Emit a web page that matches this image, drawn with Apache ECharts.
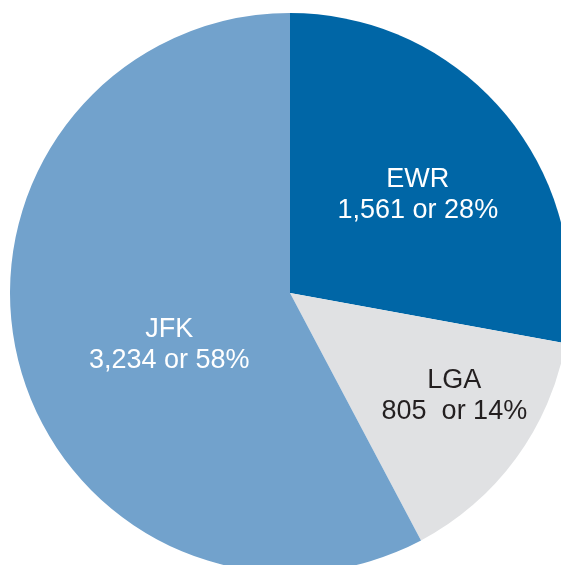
<!DOCTYPE html>
<html>
<head>
<meta charset="utf-8">
<script src="https://cdn.jsdelivr.net/npm/echarts@6/dist/echarts.min.js"></script>
<style>
  html, body { margin: 0; padding: 0; background: #fff; }
  #chart { width: 561px; height: 565px; }
</style>
</head>
<body>
<div id="chart"></div>
<script>
// airports and passenger counts
const airports = ['EWR', 'LGA', 'JFK']
const counts = [1561, 805, 3234]
const shares = ['28%', '14%', '58%']
const separators = [' or ', '  or ', ' or ']

const colors = ['#0066a6', '#e0e1e3', '#72a2cc']
const textColors = ['#ffffff', '#231f20', '#ffffff']
const labelOffsets = [[18, -6], [49, 19], [18, 18]]

const chart = echarts.init(document.getElementById('chart'))

const option = {
  backgroundColor: '#ffffff',
  animation: false,
  series: [{
    type: 'pie',
    center: [290, 293],
    radius: [0, 280],
    startAngle: 90,
    clockwise: true,
    silent: true,
    itemStyle: { borderWidth: 0 },
    label: {
      show: true,
      position: 'inside',
      fontFamily: '"Liberation Sans", Arial, sans-serif',
      fontSize: 27,
      lineHeight: 31,
      formatter: p => airports[p.dataIndex] + '\n' +
        counts[p.dataIndex].toLocaleString('en-US') + separators[p.dataIndex] + shares[p.dataIndex]
    },
    labelLine: { show: false },
    data: airports.map((name, i) => ({
      name: name,
      value: counts[i],
      itemStyle: { color: colors[i] },
      label: { color: textColors[i], offset: labelOffsets[i] }
    }))
  }]
}

chart.setOption(option)
</script>
</body>
</html>
